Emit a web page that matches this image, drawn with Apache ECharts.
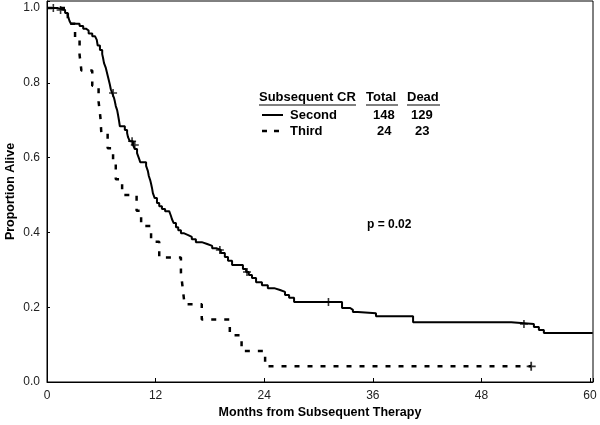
<!DOCTYPE html>
<html><head><meta charset="utf-8">
<script src="https://cdn.jsdelivr.net/npm/echarts@6/dist/echarts.min.js"></script>
<style>html,body{margin:0;padding:0;background:#fff}#c{width:600px;height:425px}</style>
</head><body><div id="c"></div>
<script>
// Second CR (solid) Kaplan-Meier: event times (months) and survival after each step
const secondTimes = [0, 1.2, 2.0, 2.3, 2.5, 2.65, 3.6, 4.0, 4.3, 4.6, 5.0, 5.3, 5.5, 5.6, 5.85, 6.1, 6.2, 6.3, 6.5, 6.6, 6.75, 6.85, 6.95, 7.05, 7.2, 7.4, 7.5, 7.6, 7.75, 7.85, 7.95, 8.05, 8.6, 8.85, 8.95, 9.15, 9.5, 9.7, 9.95, 10.15, 10.3, 10.95, 11.15, 11.25, 11.4, 11.5, 11.6, 11.7, 11.9, 12.15, 12.4, 12.7, 13.05, 13.5, 13.7, 13.8, 14.0, 14.25, 14.5, 14.8, 15.1, 15.6, 16.0, 16.45, 17.1, 17.7, 18.25, 18.7, 19.2, 19.65, 20.0, 20.45, 21.65, 22.0, 22.3, 22.65, 23.1, 23.75, 24.4, 25.1, 25.75, 26.3, 26.75, 27.3, 32.6, 33.5, 33.8, 34.35, 36.35, 40.45, 51.3, 53.8, 54.35, 54.9, 60.3];
const secondSurv  = [1.0, 0.995, 0.987, 0.98, 0.965, 0.958, 0.952, 0.945, 0.94, 0.932, 0.925, 0.92, 0.915, 0.90, 0.888, 0.877, 0.866, 0.853, 0.84, 0.83, 0.815, 0.805, 0.795, 0.783, 0.773, 0.76, 0.75, 0.738, 0.727, 0.714, 0.70, 0.684, 0.674, 0.666, 0.655, 0.644, 0.634, 0.623, 0.612, 0.599, 0.588, 0.578, 0.564, 0.551, 0.54, 0.53, 0.519, 0.505, 0.492, 0.479, 0.47, 0.463, 0.457, 0.452, 0.444, 0.436, 0.425, 0.414, 0.406, 0.398, 0.393, 0.388, 0.382, 0.374, 0.369, 0.364, 0.358, 0.353, 0.345, 0.334, 0.324, 0.313, 0.302, 0.294, 0.286, 0.278, 0.267, 0.259, 0.251, 0.246, 0.241, 0.233, 0.225, 0.214, 0.198, 0.193, 0.187, 0.184, 0.176, 0.16, 0.155, 0.147, 0.139, 0.131, 0.131];
const secondCensorTimes = [0.7, 1.5, 7.3, 9.4, 9.7, 19.1, 22.1, 31.1, 52.7];
const secondCensorSurv  = [1.0, 0.995, 0.773, 0.644, 0.634, 0.353, 0.294, 0.214, 0.155];

// Third CR (dashed)
const thirdTimes = [0, 2.3, 3.1, 3.6, 3.8, 5.0, 5.7, 5.9, 6.0, 6.7, 7.3, 7.6, 8.3, 9.9, 10.4, 11.5, 12.4, 14.8, 15.0, 15.2, 17.1, 20.2, 21.5, 24.1, 53.5];
const thirdSurv  = [1.0, 0.958, 0.917, 0.875, 0.833, 0.792, 0.75, 0.708, 0.667, 0.625, 0.583, 0.542, 0.5, 0.458, 0.417, 0.375, 0.333, 0.292, 0.25, 0.208, 0.167, 0.125, 0.083, 0.042, 0.042];
const thirdCensorTimes = [53.5];
const thirdCensorSurv  = [0.042];

const xTicks = [0, 12, 24, 36, 48, 60];
const yTicks = [0, 0.2, 0.4, 0.6, 0.8, 1.0];

const zip = (a, b) => a.map((v, i) => [v, b[i]]);
const plus = 'path://M-1,-5H1V-1H5V1H1V5H-1V1H-5V-1H-1Z';
const FONT = '"Liberation Sans", Arial, sans-serif';
const LF = 'bold 13px ' + FONT;

const chart = echarts.init(document.getElementById('c'), null, {renderer: 'canvas'});
const isTick = (v, arr) => arr.some(t => Math.abs(t - v) < 1e-6);

chart.setOption({
  animation: false,
  backgroundColor: '#fff',
  grid: {left: 47, right: 7, top: 1, bottom: 43, containLabel: false, outerBoundsMode: 'none',
         show: true, borderColor: '#000', borderWidth: 1},
  xAxis: {
    type: 'value', min: 0, max: 60.33, interval: 12,
    name: 'Months from Subsequent Therapy', nameLocation: 'middle', nameGap: 24, nameMoveOverlap: false,
    nameTextStyle: {fontFamily: FONT, fontWeight: 'bold', fontSize: 12.5, color: '#000'},
    axisLine: {lineStyle: {color: '#000', width: 1}},
    axisTick: {inside: true, length: 4, lineStyle: {color: '#000'}},
    axisLabel: {margin: 8, fontFamily: FONT, fontSize: 12, color: '#222',
      formatter: v => isTick(v, xTicks) ? String(v) : ''},
    splitLine: {show: false}
  },
  yAxis: {
    type: 'value', min: 0, max: 1.019, interval: 0.2,
    name: 'Proportion Alive', nameLocation: 'middle', nameGap: 30, nameRotate: 90, nameMoveOverlap: false,
    nameTextStyle: {fontFamily: FONT, fontWeight: 'bold', fontSize: 12.5, color: '#000'},
    axisLine: {show: true, lineStyle: {color: '#000', width: 1}},
    axisTick: {show: true, inside: true, length: 3, lineStyle: {color: '#000'}},
    axisLabel: {margin: 7, fontFamily: FONT, fontSize: 12, color: '#222',
      formatter: v => isTick(v, yTicks) ? v.toFixed(1) : ''},
    splitLine: {show: false}
  },
  series: [
    {type: 'line', step: 'end', data: zip(thirdTimes, thirdSurv), symbol: 'none',
     lineStyle: {color: '#000', width: 2.5, type: [5, 8]}, z: 2},
    {type: 'line', step: 'end', data: zip(secondTimes, secondSurv), symbol: 'none',
     lineStyle: {color: '#000', width: 2}, z: 3},
    {type: 'scatter', data: zip(secondCensorTimes, secondCensorSurv), symbol: plus, symbolSize: 8,
     itemStyle: {color: '#000'}, z: 4},
    {type: 'scatter', data: zip(thirdCensorTimes, thirdCensorSurv), symbol: plus, symbolSize: 9,
     itemStyle: {color: '#000'}, z: 4}
  ],
  graphic: [
    {type: 'text', left: 259, top: 91, style: {text: 'Subsequent CR', font: LF, fill: '#000'}},
    {type: 'line', shape: {x1: 259, y1: 105, x2: 356, y2: 105}, style: {stroke: '#000', lineWidth: 1}},
    {type: 'text', left: 366, top: 91, style: {text: 'Total', font: LF, fill: '#000'}},
    {type: 'line', shape: {x1: 366, y1: 105, x2: 398, y2: 105}, style: {stroke: '#000', lineWidth: 1}},
    {type: 'text', left: 407, top: 91, style: {text: 'Dead', font: LF, fill: '#000'}},
    {type: 'line', shape: {x1: 407, y1: 105, x2: 440, y2: 105}, style: {stroke: '#000', lineWidth: 1}},
    {type: 'line', shape: {x1: 262, y1: 115, x2: 283, y2: 115}, style: {stroke: '#000', lineWidth: 2}},
    {type: 'text', left: 290, top: 109, style: {text: 'Second', font: LF, fill: '#000'}},
    {type: 'text', left: 373, top: 109, style: {text: '148', font: LF, fill: '#000'}},
    {type: 'text', left: 411, top: 109, style: {text: '129', font: LF, fill: '#000'}},
    {type: 'line', shape: {x1: 262, y1: 131, x2: 280, y2: 131}, style: {stroke: '#000', lineWidth: 2.5, lineDash: [5, 7]}},
    {type: 'text', left: 290, top: 125, style: {text: 'Third', font: LF, fill: '#000'}},
    {type: 'text', left: 377, top: 125, style: {text: '24', font: LF, fill: '#000'}},
    {type: 'text', left: 415, top: 125, style: {text: '23', font: LF, fill: '#000'}},
    {type: 'text', left: 367, top: 219, style: {text: 'p = 0.02', font: 'bold 12px ' + FONT, fill: '#000'}}
  ]
});
</script></body></html>
